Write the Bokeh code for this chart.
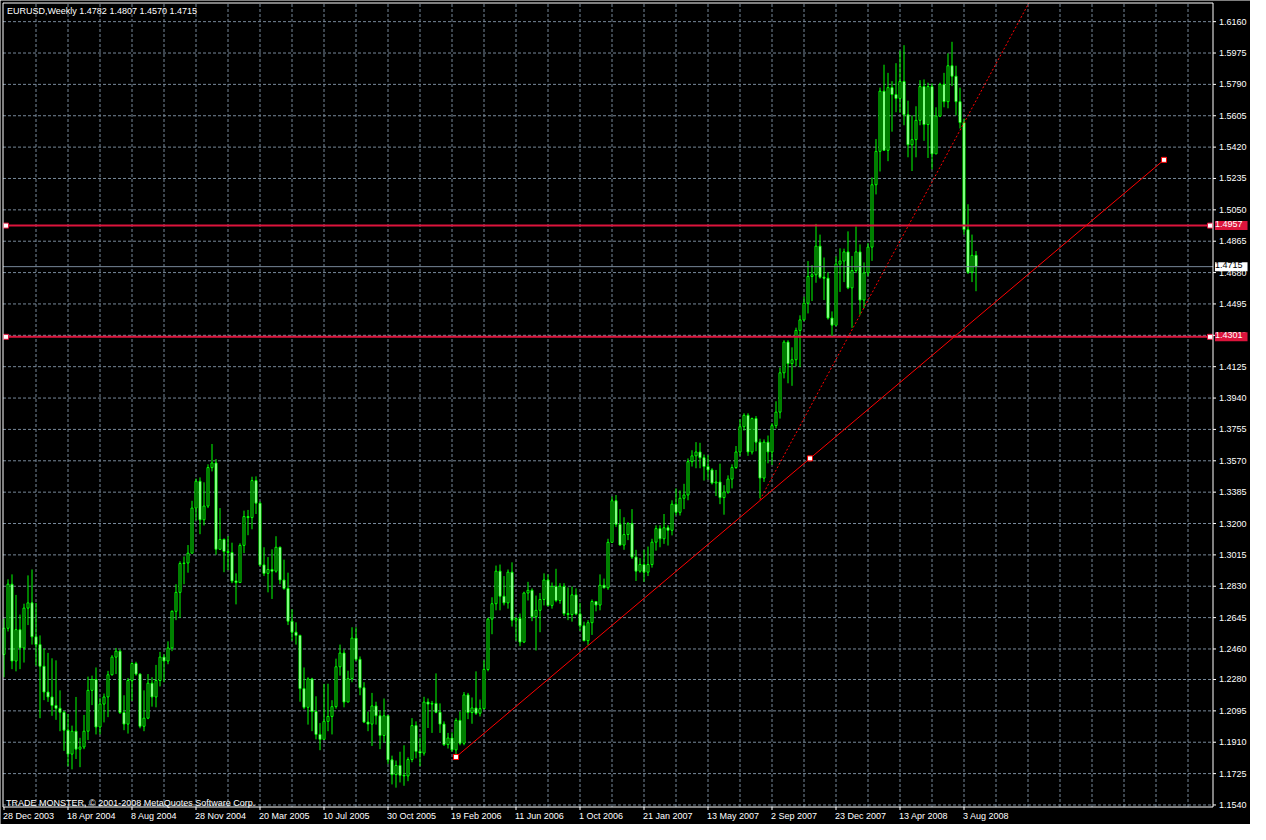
from bokeh.plotting import figure
from bokeh.models import ColumnDataSource, Label, Range1d
from bokeh.core.properties import value
from bokeh.embed import file_html
from bokeh.resources import INLINE

# ---------------- data (weekly EURUSD, bar index 0 = week of 28 Dec 2003) ----------------
first_open = 1.2428
closes = [
    1.2582, 1.2842, 1.2389, 1.2574, 1.2466, 1.2701, 1.2732, 1.2532, 1.2486, 1.2358,
    1.2206, 1.2177, 1.2127, 1.2110, 1.2087, 1.1981, 1.1840, 1.1975, 1.1869, 1.1882,
    1.1975, 1.2216, 1.2280, 1.2000, 1.2135, 1.2177, 1.2308, 1.2412, 1.2447, 1.2085,
    1.2017, 1.2274, 1.2374, 1.2312, 1.2004, 1.2052, 1.2258, 1.2177, 1.2274, 1.2412,
    1.2389, 1.2466, 1.2682, 1.2794, 1.2964, 1.2967, 1.3025, 1.3291, 1.3449, 1.3222,
    1.3303, 1.3530, 1.3557, 1.3048, 1.3106, 1.3035, 1.3029, 1.2861, 1.2852, 1.3071,
    1.3241, 1.3235, 1.3453, 1.3320, 1.2956, 1.2906, 1.2929, 1.2919, 1.3060, 1.2867,
    1.2817, 1.2624, 1.2559, 1.2540, 1.2226, 1.2116, 1.2283, 1.2091, 1.1956, 1.1927,
    1.2033, 1.2062, 1.2120, 1.2355, 1.2436, 1.2147, 1.2285, 1.2524, 1.2399, 1.2231,
    1.2029, 1.2017, 1.2124, 1.2066, 1.1950, 1.2066, 1.1806, 1.1719, 1.1773, 1.1715,
    1.1711, 1.1808, 1.2008, 1.1856, 1.1846, 1.2147, 1.2135, 1.2139, 1.2087, 1.2017,
    1.1896, 1.1935, 1.1865, 1.2039, 1.1904, 1.2189, 1.2085, 1.2112, 1.2081, 1.2108,
    1.2339, 1.2636, 1.2727, 1.2919, 1.2771, 1.2732, 1.2913, 1.2630, 1.2640, 1.2501,
    1.2790, 1.2806, 1.2650, 1.2688, 1.2752, 1.2867, 1.2717, 1.2829, 1.2746, 1.2829,
    1.2669, 1.2663, 1.2779, 1.2667, 1.2597, 1.2509, 1.2615, 1.2740, 1.2719, 1.2836,
    1.2821, 1.3089, 1.3334, 1.3195, 1.3073, 1.3135, 1.3199, 1.3002, 1.2919, 1.2958,
    1.2913, 1.2958, 1.3090, 1.3170, 1.3110, 1.3175, 1.3160, 1.3314, 1.3266, 1.3349,
    1.3368, 1.3565, 1.3599, 1.3622, 1.3588, 1.3536, 1.3516, 1.3439, 1.3445, 1.3353,
    1.3385, 1.3462, 1.3530, 1.3622, 1.3771, 1.3838, 1.3622, 1.3819, 1.3680, 1.3468,
    1.3680, 1.3622, 1.3777, 1.3857, 1.4089, 1.4270, 1.4143, 1.4166, 1.4339, 1.4401,
    1.4499, 1.4657, 1.4667, 1.4836, 1.4653, 1.4647, 1.4412, 1.4370, 1.4730, 1.4748,
    1.4802, 1.4590, 1.4692, 1.4802, 1.4518, 1.4678, 1.4830, 1.5198, 1.5395, 1.5750,
    1.5401, 1.5771, 1.5730, 1.5707, 1.5807, 1.5611, 1.5434, 1.5464, 1.5578, 1.5777,
    1.5553, 1.5777, 1.5380, 1.5603, 1.5790, 1.5688, 1.5900, 1.5838, 1.5688, 1.5565,
    1.4933, 1.4682, 1.4782, 1.4715,
]
highs = [
    1.2640, 1.2871, 1.2900, 1.2779, 1.2663, 1.2727, 1.2894, 1.2929, 1.2732, 1.2540,
    1.2463, 1.2437, 1.2405, 1.2393, 1.2216, 1.2096, 1.2077, 1.2008, 1.2177, 1.1936,
    1.2071, 1.2297, 1.2303, 1.2351, 1.2173, 1.2197, 1.2331, 1.2424, 1.2466, 1.2457,
    1.2187, 1.2289, 1.2382, 1.2385, 1.2316, 1.2216, 1.2312, 1.2293, 1.2366, 1.2443,
    1.2428, 1.2505, 1.2688, 1.2842, 1.2977, 1.3006, 1.3073, 1.3334, 1.3465, 1.3472,
    1.3443, 1.3549, 1.3669, 1.3580, 1.3291, 1.3112, 1.3125, 1.3087, 1.2906, 1.3083,
    1.3276, 1.3280, 1.3476, 1.3478, 1.3330, 1.3060, 1.3002, 1.3048, 1.3125, 1.3064,
    1.2987, 1.2910, 1.2694, 1.2617, 1.2544, 1.2351, 1.2293, 1.2290, 1.2181, 1.2023,
    1.2254, 1.2255, 1.2158, 1.2403, 1.2486, 1.2457, 1.2332, 1.2588, 1.2588, 1.2416,
    1.2264, 1.2091, 1.2201, 1.2149, 1.2097, 1.2168, 1.2071, 1.1831, 1.1802, 1.1854,
    1.1892, 1.1821, 1.2052, 1.2033, 1.1937, 1.2178, 1.2168, 1.2154, 1.2316, 1.2139,
    1.2033, 1.1965, 1.1969, 1.2052, 1.2091, 1.2206, 1.2201, 1.2174, 1.2328, 1.2162,
    1.2393, 1.2644, 1.2765, 1.2952, 1.2958, 1.2890, 1.2929, 1.2971, 1.2649, 1.2669,
    1.2798, 1.2856, 1.2817, 1.2775, 1.2790, 1.2906, 1.2900, 1.2852, 1.2933, 1.2848,
    1.2848, 1.2823, 1.2829, 1.2817, 1.2732, 1.2621, 1.2630, 1.2752, 1.2740, 1.2900,
    1.2875, 1.3110, 1.3359, 1.3368, 1.3285, 1.3237, 1.3208, 1.3285, 1.3045, 1.2996,
    1.3045, 1.3064, 1.3110, 1.3189, 1.3190, 1.3256, 1.3190, 1.3337, 1.3407, 1.3395,
    1.3434, 1.3584, 1.3632, 1.3680, 1.3676, 1.3607, 1.3603, 1.3526, 1.3516, 1.3553,
    1.3426, 1.3484, 1.3549, 1.3657, 1.3815, 1.3850, 1.3850, 1.3825, 1.3834, 1.3700,
    1.3696, 1.3719, 1.3792, 1.3921, 1.4120, 1.4281, 1.4281, 1.4239, 1.4355, 1.4428,
    1.4538, 1.4748, 1.4724, 1.4967, 1.4904, 1.4769, 1.4682, 1.4451, 1.4775, 1.4823,
    1.4821, 1.4923, 1.4778, 1.4952, 1.4846, 1.4740, 1.4855, 1.5241, 1.5468, 1.5771,
    1.5906, 1.5858, 1.5809, 1.5915, 1.5989, 1.6021, 1.5694, 1.5607, 1.5661, 1.5815,
    1.5819, 1.5800, 1.5796, 1.5655, 1.5800, 1.5858, 1.5973, 1.6041, 1.5900, 1.5771,
    1.5588, 1.5083, 1.4904, 1.4807,
]
lows = [
    1.2293, 1.2563, 1.2341, 1.2328, 1.2341, 1.2380, 1.2601, 1.2486, 1.2362, 1.2052,
    1.2158, 1.2148, 1.2066, 1.2042, 1.1975, 1.1859, 1.1769, 1.1750, 1.1811, 1.1763,
    1.1869, 1.1923, 1.2129, 1.1956, 1.1956, 1.2027, 1.2058, 1.2303, 1.2312, 1.2077,
    1.1981, 1.1961, 1.2154, 1.2303, 1.1992, 1.1975, 1.2046, 1.2120, 1.2116, 1.2239,
    1.2264, 1.2370, 1.2447, 1.2630, 1.2644, 1.2842, 1.2910, 1.3025, 1.3218, 1.3137,
    1.3189, 1.3291, 1.3507, 1.3016, 1.3044, 1.2913, 1.2925, 1.2848, 1.2723, 1.2871,
    1.3025, 1.3131, 1.3166, 1.3256, 1.2948, 1.2890, 1.2794, 1.2755, 1.2910, 1.2842,
    1.2809, 1.2601, 1.2509, 1.2486, 1.2149, 1.2104, 1.2014, 1.1975, 1.1927, 1.1863,
    1.1946, 1.1975, 1.1956, 1.2108, 1.2303, 1.2116, 1.2149, 1.2264, 1.2389, 1.2187,
    1.2023, 1.1975, 1.1888, 1.2014, 1.1869, 1.1908, 1.1782, 1.1661, 1.1642, 1.1673,
    1.1653, 1.1680, 1.1792, 1.1815, 1.1769, 1.1831, 1.1994, 1.1965, 1.2081, 1.1965,
    1.1888, 1.1873, 1.1854, 1.1823, 1.1892, 1.1892, 1.2046, 1.2019, 1.2071, 1.2062,
    1.2104, 1.2328, 1.2547, 1.2688, 1.2688, 1.2717, 1.2698, 1.2592, 1.2509, 1.2476,
    1.2495, 1.2746, 1.2624, 1.2451, 1.2559, 1.2717, 1.2711, 1.2698, 1.2736, 1.2727,
    1.2655, 1.2630, 1.2621, 1.2659, 1.2567, 1.2505, 1.2482, 1.2543, 1.2682, 1.2688,
    1.2817, 1.2809, 1.3118, 1.3179, 1.3070, 1.3045, 1.3102, 1.2991, 1.2861, 1.2910,
    1.2856, 1.2890, 1.2940, 1.3040, 1.3060, 1.3080, 1.3070, 1.3130, 1.3247, 1.3247,
    1.3285, 1.3337, 1.3536, 1.3526, 1.3526, 1.3453, 1.3459, 1.3430, 1.3362, 1.3314,
    1.3252, 1.3376, 1.3407, 1.3522, 1.3599, 1.3748, 1.3599, 1.3607, 1.3626, 1.3349,
    1.3445, 1.3555, 1.3545, 1.3761, 1.3819, 1.4056, 1.4027, 1.4012, 1.4127, 1.4123,
    1.4393, 1.4439, 1.4512, 1.4620, 1.4644, 1.4518, 1.4403, 1.4306, 1.4364, 1.4566,
    1.4624, 1.4582, 1.4354, 1.4678, 1.4431, 1.4470, 1.4659, 1.4749, 1.5141, 1.5276,
    1.5399, 1.5337, 1.5511, 1.5626, 1.5622, 1.5549, 1.5360, 1.5279, 1.5360, 1.5549,
    1.5457, 1.5356, 1.5289, 1.5380, 1.5597, 1.5655, 1.5649, 1.5780, 1.5607, 1.5530,
    1.4904, 1.4672, 1.4624, 1.4570,
]
opens = [first_open] + closes[:-1]

date_tick_bars = [0, 16, 32, 48, 64, 80, 96, 112, 128, 144, 160, 176, 192, 208, 224, 240]
date_tick_labels = ["28 Dec 2003", "18 Apr 2004", "8 Aug 2004", "28 Nov 2004", "20 Mar 2005",
                    "10 Jul 2005", "30 Oct 2005", "19 Feb 2006", "11 Jun 2006", "1 Oct 2006",
                    "21 Jan 2007", "13 May 2007", "2 Sep 2007", "23 Dec 2007", "13 Apr 2008",
                    "3 Aug 2008"]
price_ticks = [1.6160, 1.5975, 1.5790, 1.5605, 1.5420, 1.5235, 1.5050, 1.4865, 1.4680, 1.4495,
               1.4310, 1.4125, 1.3940, 1.3755, 1.3570, 1.3385, 1.3200, 1.3015, 1.2830, 1.2645,
               1.2460, 1.2280, 1.2095, 1.1910, 1.1725, 1.1540]
grid_bars = list(range(8, 304, 8))

level_lines = [1.4957, 1.4301]
bid_price = 1.4715
trend_bars = [113, 290]
trend_prices = [1.1823, 1.5345]
dot_bars = [189, 240]
dot_prices = [1.3340, 1.5563]

symbol = "EURUSD,Weekly"

# ---------------- layout (MetaTrader-style window drawn on one canvas) ----------------
W, H = 1250, 824
PXB = 4.0                      # pixels per weekly bar
X0 = -0.875                    # data x at left canvas edge
X1 = X0 + W / PXB
CH_L = X0 + 2.5 / PXB          # chart frame, data units
CH_R = X0 + 1212.5 / PXB
P_TOP, P_BOT = 1.6270, 1.1528  # price at chart frame top / bottom
K = (P_TOP - P_BOT) / 804.0    # price per pixel
Y1 = P_TOP + 2.5 * K
Y0 = P_BOT - 17.5 * K

FONT = value("Liberation Sans")
FS = value("9px")
LIME = "#00FF00"
CRIMSON = "#DC143C"
GRID = "#778899"

p = figure(width=W, height=H, output_backend="svg", toolbar_location=None,
           x_range=Range1d(X0, X1), y_range=Range1d(Y0, Y1),
           x_axis_type=None, y_axis_type=None,
           min_border=0, min_border_left=0, min_border_right=0,
           min_border_top=0, min_border_bottom=0,
           background_fill_color="black", border_fill_color="black",
           outline_line_color=None)

# grid (dashed, inside chart frame only)
p.segment(x0=grid_bars, y0=[P_BOT] * len(grid_bars), x1=grid_bars, y1=[P_TOP] * len(grid_bars),
          line_color=GRID, line_width=1, line_dash="3 2")
p.segment(x0=[CH_L] * len(price_ticks), y0=price_ticks, x1=[CH_R] * len(price_ticks), y1=price_ticks,
          line_color=GRID, line_width=1, line_dash="3 2")

# candles
n = len(closes)
src = ColumnDataSource(dict(
    x=list(range(n)), o=opens, h=highs, l=lows, c=closes,
    top=[max(a, b) for a, b in zip(opens, closes)],
    bot=[min(a, b) for a, b in zip(opens, closes)],
    fill=["black" if c >= o else "white" for o, c in zip(opens, closes)],
))
p.segment(x0="x", y0="l", x1="x", y1="h", source=src, line_color=LIME, line_width=1)
p.vbar(x="x", width=0.5, top="top", bottom="bot", source=src,
       fill_color="fill", line_color=LIME, line_width=1)

# horizontal levels and bid line
p.segment(x0=[CH_L] * 2, y0=level_lines, x1=[CH_R] * 2, y1=level_lines,
          line_color=CRIMSON, line_width=2)
p.segment(x0=[CH_L], y0=[bid_price], x1=[CH_R], y1=[bid_price], line_color=GRID, line_width=1)
for lv in level_lines:
    p.scatter(x=[CH_L + 0.75, CH_R - 0.75], y=[lv, lv], marker="square", size=5,
              fill_color="white", line_color=CRIMSON, line_width=1)

# trend lines
slope = (dot_prices[1] - dot_prices[0]) / (dot_bars[1] - dot_bars[0])
dot_end_bar = dot_bars[0] + (P_TOP - dot_prices[0]) / slope
p.line(x=[dot_bars[0], dot_end_bar], y=[dot_prices[0], P_TOP],
       line_color="#FF0000", line_width=1, line_dash="2 2")
p.line(x=trend_bars, y=trend_prices, line_color="#FF0000", line_width=1)
mid_bar = (trend_bars[0] + trend_bars[1]) / 2
mid_price = (trend_prices[0] + trend_prices[1]) / 2
p.scatter(x=trend_bars + [mid_bar], y=trend_prices + [mid_price], marker="square", size=5,
          fill_color="white", line_color="#FF0000", line_width=1)

# chart frame
p.quad(left=[CH_L], right=[CH_R], bottom=[P_BOT], top=[P_TOP],
       fill_color=None, line_color="white", line_width=1)

# price scale (right)
p.segment(x0=[CH_R] * len(price_ticks), y0=price_ticks,
          x1=[CH_R + 3 / PXB] * len(price_ticks), y1=price_ticks,
          line_color="white", line_width=1)
p.text(x=[CH_R + 6 / PXB] * len(price_ticks), y=price_ticks,
       text=[f"{v:.4f}" for v in price_ticks], text_align="left", text_baseline="middle",
       text_color="white", text_font=FONT, text_font_size=FS)

# time scale (bottom)
p.segment(x0=date_tick_bars, y0=[P_BOT] * len(date_tick_bars),
          x1=date_tick_bars, y1=[P_BOT - 3 * K] * len(date_tick_bars),
          line_color="white", line_width=1)
p.text(x=[b - 0.25 for b in date_tick_bars], y=[P_BOT - 4 * K] * len(date_tick_bars),
       text=date_tick_labels, text_align="left", text_baseline="top",
       text_color="white", text_font=FONT, text_font_size=FS)

# price boxes on the right scale
for lv in level_lines:
    p.add_layout(Label(x=CH_R, y=lv, x_offset=2, text=f"{lv:.4f}", text_align="left",
                       text_baseline="middle", text_color="white", text_font="Liberation Sans",
                       text_font_size="9px", background_fill_color=CRIMSON,
                       padding=(0, 5, 0, 3)))
p.add_layout(Label(x=CH_R, y=bid_price, x_offset=2, text=f"{bid_price:.4f}", text_align="left",
                   text_baseline="middle", text_color="black", text_font="Liberation Sans",
                   text_font_size="9px", background_fill_color="white",
                   padding=(0, 5, 0, 3)))

# title and footer
title_text = f"{symbol}  {opens[-1]:.4f} {highs[-1]:.4f} {lows[-1]:.4f} {closes[-1]:.4f}"
p.add_layout(Label(x=CH_L, y=P_TOP, x_offset=4, y_offset=-3, text=title_text,
                   text_align="left", text_baseline="top", text_color="white",
                   text_font="Liberation Sans", text_font_size="9px"))
p.add_layout(Label(x=CH_L, y=P_BOT, x_offset=3, y_offset=4,
                   text="TRADE MONSTER, © 2001-2008 MetaQuotes Software Corp.",
                   text_align="left", text_baseline="alphabetic", text_color="white",
                   text_font="Liberation Sans", text_font_size="9px"))

open("out.html", "w").write(file_html(p, INLINE))
